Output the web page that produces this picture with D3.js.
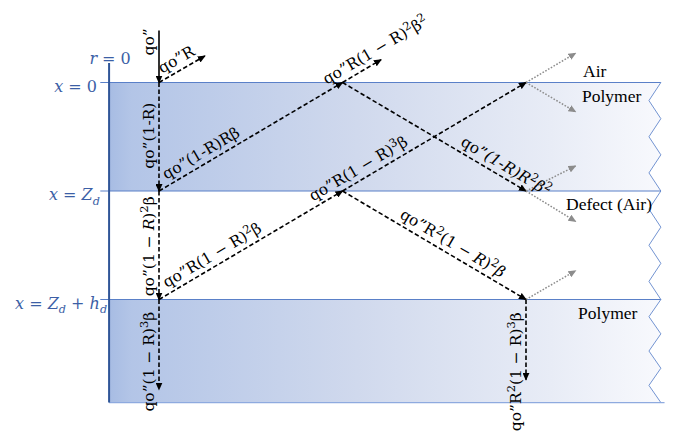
<!DOCTYPE html>
<html><head><meta charset="utf-8">
<script src="https://cdn.jsdelivr.net/npm/d3@7"></script>
<style>html,body{margin:0;padding:0;background:#fff}</style>
</head><body>
<svg id="c" width="685" height="436"></svg>
<script>
// ---- data (diagram units: lateral bounce step = 1, layer thickness = 1) ----
const interfaceDepths = [0, 1, 2];
const interfaceLabels = ["x = 0", "x = Z_d", "x = Z_d + h_d"];
const layerTop = [0, 1, 2];
const layerBottom = [1, 2, 2.95];
const layerFilled = [true, false, true];
const mediumLabels = ["Air", "Polymer", "Defect (Air)", "Polymer"];
const mediumAt = [[2.311, -0.05], [2.305, 0.18], [2.218, 1.175], [2.284, 2.18]];

const rayStart = [[0,-0.48],[0,0],[0,0],[0,1],[1,0],[1,0],[2,1],[2,1],[0,1],[0,2],[1,1],[2,0],[2,0],[1,1],[2,2],[2,2],[0,2]];
const rayEnd   = [[0,0],[0.25,-0.245],[0,1],[1,0],[1.21,-0.21],[2,1],[2.27,0.77],[2.27,1.28],[0,2],[1,1],[2,0],[2.27,-0.27],[2.27,0.27],[2,2],[2.27,1.735],[2,2.74],[0,2.83]];
const rayKind  = ["solid","dash","dash","dash","dash","dash","dot","dot","dash","dash","dash","dot","dot","dash","dot","dash","dash"];

const rayLabelText = [
  "qo”", "qo”R", "qo”(1-R)", "qo”(1-R)Rβ", "qo”R(1 − R)^{2}β^{2}",
  "qo”*(1-R)R*^{2}*β*^{2}", "qo”(1 − *R*)^{2}β", "qo”R(1 − R)^{2}β",
  "qo”R(1 − R)^{3}β", "qo”R^{2}(1 − *R*)^{2}*β*", "qo”(1 − R)^{3}β", "qo”R^{2}(1 − R)^{3}β"
];
const rayLabelSeg = [0, 1, 2, 3, 4, 5, 8, 9, 10, 13, 16, 15];
const rayLabelT   = [0.22, 0.5, 0.49, 0.26, 1.0, 0.86, 0.51, 0.32, 0.117, 0.57, 0.69, 0.9];

// ---- layout ----
const X = d3.scaleLinear().domain([0, 1]).range([159, 342.5]);
const Y = d3.scaleLinear().domain([0, 1]).range([82.5, 191]);
const axisX = -0.272, edgeOut = 2.735, edgeIn = 2.67, lineStartX = -0.32;
const blue = "#5a80c8", textBlue = "#3c5fa6";
const fs = 15.5;

const svg = d3.select("#c");
const defs = svg.append("defs");
const g = defs.append("linearGradient").attr("id","pg").attr("gradientUnits","userSpaceOnUse")
  .attr("x1", X(axisX)).attr("x2", X(edgeOut)).attr("y1",0).attr("y2",0);
[[0,"#a7bce3"],[0.04,"#b3c5e7"],[0.45,"#d0d9ed"],[0.8,"#e8ecf6"],[1,"#f8f9fd"]]
  .forEach(([o,c]) => g.append("stop").attr("offset", o).attr("stop-color", c));
function marker(id, col){
  defs.append("marker").attr("id", id).attr("markerUnits","userSpaceOnUse")
    .attr("markerWidth",8).attr("markerHeight",7).attr("refX",7).attr("refY",3.5)
    .attr("orient","auto").append("path").attr("d","M0,0L8,3.5L0,7Z").attr("fill", col);
}
marker("ab","#000"); marker("ag","#8c8c8c");

function zig(t, b){
  const pts = [];
  for (let k = 0; k <= 6; k++) pts.push([k % 2 === 0 ? edgeOut : edgeIn, t + (b - t) * k / 6]);
  return pts;
}
const line = d3.line().x(d => X(d[0])).y(d => Y(d[1]));

// bands
layerTop.forEach((t, i) => {
  const b = layerBottom[i];
  if (layerFilled[i]) {
    const pts = [[axisX, t], ...zig(t, b), [axisX, b]];
    svg.append("path").attr("d", line(pts) + "Z").attr("fill", "url(#pg)");
  }
  svg.append("path").attr("d", line(zig(t, b))).attr("fill","none").attr("stroke","#7394d2").attr("stroke-width",1);
});

// interfaces
interfaceDepths.forEach(d => {
  svg.append("line").attr("x1", X(lineStartX)).attr("x2", X(edgeOut)).attr("y1", Y(d)).attr("y2", Y(d))
    .attr("stroke", blue).attr("stroke-width", 1.2);
});
svg.append("line").attr("x1", X(axisX)).attr("x2", X(edgeOut + 0.02)).attr("y1", Y(2.95)).attr("y2", Y(2.95))
  .attr("stroke", "#8eaadf").attr("stroke-width", 1.2);
svg.append("line").attr("x1", X(axisX)).attr("x2", X(axisX)).attr("y1", Y(-0.18)).attr("y2", Y(2.95))
  .attr("stroke", "#2f5597").attr("stroke-width", 2);

// rays
rayStart.forEach((s, i) => {
  const e = rayEnd[i], k = rayKind[i];
  const l = svg.append("line").attr("x1", X(s[0])).attr("y1", Y(s[1])).attr("x2", X(e[0])).attr("y2", Y(e[1]))
    .attr("fill","none");
  if (k === "solid") l.attr("stroke","#000").attr("stroke-width",1.6).attr("marker-end","url(#ab)");
  if (k === "dash") l.attr("stroke","#000").attr("stroke-width",1.6).attr("stroke-dasharray","4.5,2.5").attr("marker-end","url(#ab)");
  if (k === "dot") l.attr("stroke","#8c8c8c").attr("stroke-width",1.5).attr("stroke-dasharray","1.6,1.6").attr("marker-end","url(#ag)");
});

// rich text: ^{..} superscript, *..* italic, _x subscript
function rich(sel, str, size){
  const re = /\^\{([^}]*)\}|_\{?([^} ]*)\}?|\*([^*]+)\*|([^^*_]+)/g;
  let m, shift = 0;
  while ((m = re.exec(str))) {
    if (m[1] !== undefined) {
      sel.append("tspan").attr("font-size", size * 0.74).attr("dy", -size * 0.38 - shift).text(m[1]);
      shift = -size * 0.38;
    } else if (m[2] !== undefined) {
      sel.append("tspan").attr("font-size", size * 0.7).attr("font-style","italic").attr("dy", size * 0.3 - shift).text(m[2]);
      shift = size * 0.3;
    } else {
      const t = sel.append("tspan").attr("dy", -shift).text(m[3] || m[4]);
      if (m[3]) t.attr("font-style","italic");
      shift = 0;
    }
  }
}

// ray labels
rayLabelText.forEach((txt, i) => {
  const si = rayLabelSeg[i], s = rayStart[si], e = rayEnd[si];
  const x0 = X(s[0]), y0 = Y(s[1]), x1 = X(e[0]), y1 = Y(e[1]);
  let a = Math.atan2(y1 - y0, x1 - x0) * 180 / Math.PI;
  if (a > 60) a -= 180;
  const r = a * Math.PI / 180, off = Math.abs(a) > 60 ? 5 : 6;
  const px = x0 + (x1 - x0) * rayLabelT[i] + Math.sin(r) * off;
  const py = y0 + (y1 - y0) * rayLabelT[i] - Math.cos(r) * off;
  const t = svg.append("text").attr("transform", `translate(${px},${py}) rotate(${a})`)
    .attr("text-anchor","middle").attr("font-family","DejaVu Serif").attr("font-size",fs).attr("fill","#000");
  rich(t, txt, fs);
});

// medium labels
mediumLabels.forEach((txt, i) => {
  svg.append("text").attr("x", X(mediumAt[i][0])).attr("y", Y(mediumAt[i][1]))
    .attr("font-family","Liberation Serif").attr("font-size",17.5).attr("fill","#000").text(txt);
});

// interface labels
const labelEnd = [-0.338, -0.322, -0.283];
interfaceLabels.forEach((txt, i) => {
  const t = svg.append("text").attr("x", X(labelEnd[i])).attr("y", Y(interfaceDepths[i]) + 9)
    .attr("text-anchor","end").attr("font-family","DejaVu Serif").attr("font-size",16).attr("fill",textBlue);
  const parts = txt.replace(/([xZh])/g, "*$1*");
  rich(t, parts, 16);
});
const r0 = svg.append("text").attr("x", X(axisX) + 1).attr("y", Y(-0.17))
  .attr("text-anchor","middle").attr("font-family","DejaVu Serif").attr("font-size",16).attr("fill",textBlue);
rich(r0, "*r* = 0", 16);
</script>
</body></html>
